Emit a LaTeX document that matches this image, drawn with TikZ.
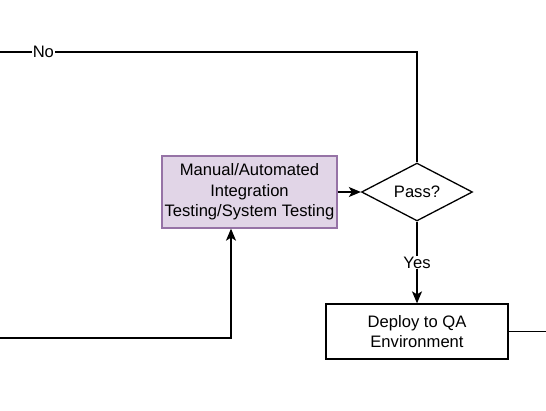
\documentclass[tikz,border=0pt]{standalone}
\usepackage{fontspec}
\setmainfont{Liberation Sans}
\usetikzlibrary{shapes.geometric,arrows.meta,positioning}
\definecolor{testfill}{HTML}{E1D5E7}
\definecolor{testdraw}{HTML}{9673A6}

\begin{document}
\begin{tikzpicture}[
    x=1pt, y=-1pt,
    every node/.style={font=\fontsize{16.6}{20.5}\selectfont},
    flow/.style={line width=1.3pt},
    arr/.style={flow, -{Stealth[length=12pt,width=10pt,inset=3pt]}},
    lbl/.style={fill=white, inner sep=1pt},
  ]
    \useasboundingbox (0,0) rectangle (546,410);

    % Тестирование
    \node[draw=testdraw, fill=testfill, line width=1.3pt, minimum width=175pt, minimum height=72pt, inner sep=0pt, align=center] (test) at (249.5,192) {Manual/Automated\\Integration\\Testing/System Testing};

    % Проверка
    \node[draw, diamond, line width=1.3pt, minimum width=111pt, minimum height=56pt, inner sep=0pt] (pass) at (417,192) {Pass?};
    \draw[arr] (test) -- (pass);

    % Развёртывание
    \node[draw, line width=1.3pt, minimum width=182pt, minimum height=55pt, inner sep=0pt, align=center] (deploy) at (417,331.5) {Deploy to QA\\Environment};
    \draw[arr] (pass) -- (deploy) node[lbl, midway] (yes) {Yes};

    % Возвраты
    \coordinate (noEnd) at (0,52);
    \draw[flow] (pass.north) |- (noEnd) node[lbl, pos=0.948] (no) {No};
    \coordinate (loopIn) at (0,338);
    \draw[arr] (loopIn) -| ([xshift=-18.5]test.south);
    \coordinate (deployOut) at (546,331.5);
    \draw[flow] (deploy.east) -- (deployOut);
  \end{tikzpicture}
\end{document}
